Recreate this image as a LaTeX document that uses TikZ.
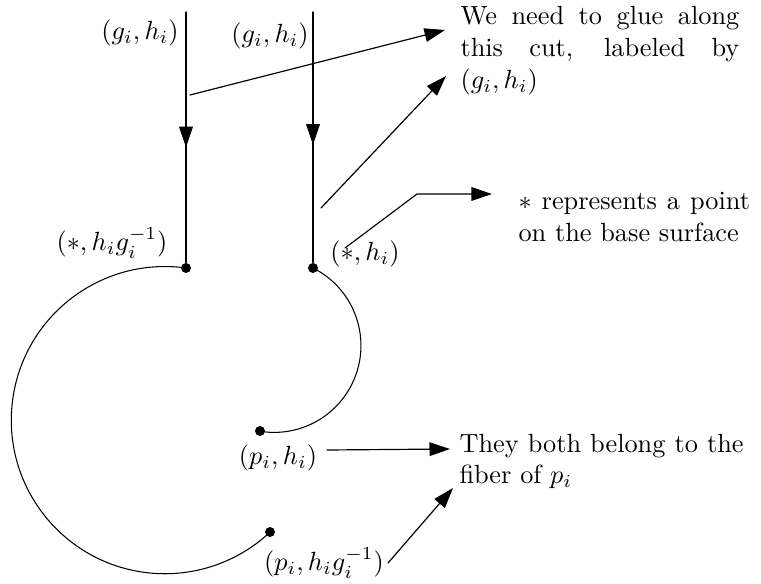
\documentclass[tikz,border=0pt]{standalone}
\usepackage{amsmath,amssymb}
\usepackage{tikz}
\usetikzlibrary{arrows.meta,decorations.markings}
\tikzset{
    every picture/.style={line cap=round,line join=round},
    ptdot/.style={circle,fill=black,inner sep=0pt,minimum size=3.8pt},
    midarrow/.style={postaction={decorate},decoration={markings,
      mark=at position #1 with {\arrow{>}}}},
    pointer/.style={->,line width=0.45pt},
    note/.style={anchor=base west,inner sep=0pt,align=justify}
}
\begin{document}
\begin{tikzpicture}[x=0.3802pt,y=0.3802pt,>={Triangle[length=7.8pt,width=5.2pt]}]
  \useasboundingbox (0,0) rectangle (761,583);
  % the two cuts and their end points
  \coordinate (t1) at (186,571);
  \coordinate (t2) at (313,571);
  \node[ptdot] (d1) at (186,315) {};
  \node[ptdot] (d2) at (313,315) {};
  \node[ptdot] (d3) at (260,152) {};
  \node[ptdot] (d4) at (270,51) {};
  \draw[midarrow=0.54] (t1) -- (d1);
  \draw[midarrow=0.53] (t2) -- (d2);
  \draw (d1.center) arc[start angle=82.1,end angle=313.2,radius=58.4pt];
  \draw (d2.center) arc[start angle=63.4,end angle=-99.4,radius=33pt];
  % labels of the points
  \node (gh1) at (140,550) {$(g_i,h_i)$};
  \node (gh2) at (270,547) {$(g_i,h_i)$};
  \node (sh1) at (112,340) {$(*,h_ig_i^{-1})$};
  \node (sh2) at (365,329) {$(*,h_i)$};
  \node (ph1) at (278,125) {$(p_i,h_i)$};
  \node (ph2) at (324,20) {$(p_i,h_ig_i^{-1})$};
  % notes on the right
  \node[note,text width=106pt] (glue) at (460,558)
    {We need to glue along this cut, labeled by $(g_i,h_i)$};
  \node[note,text width=88pt] (base) at (518,373)
    {$*$ represents a point on the base surface};
  \node[note,text width=108pt] (fiber) at (459,131)
    {They both belong to the fiber of $p_i$};
  % pointers
  \coordinate (c1) at (190,488); \coordinate (g1) at (445,553);
  \coordinate (c2) at (321,375); \coordinate (g2) at (446,507);
  \coordinate (s1) at (345,335); \coordinate (s2) at (417,389);
  \coordinate (b1) at (492,389);
  \coordinate (p1) at (327,133); \coordinate (f1) at (450,134);
  \coordinate (p2) at (388,20);  \coordinate (f2) at (453,95);
  \draw[pointer] (c1) -- (g1);
  \draw[pointer] (c2) -- (g2);
  \draw[pointer] (s1) -- (s2) -- (b1);
  \draw[pointer] (p1) -- (f1);
  \draw[pointer] (p2) -- (f2);
\end{tikzpicture}
\end{document}
